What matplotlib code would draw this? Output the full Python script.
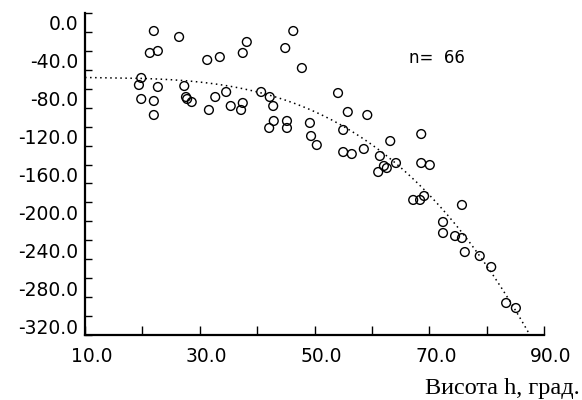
import numpy as np
import matplotlib
matplotlib.use("Agg")
import matplotlib.pyplot as plt
from matplotlib.transforms import ScaledTranslation

# values
height_deg = [22.0, 26.4, 21.3, 22.7, 31.3, 33.5, 19.8, 19.4, 22.7, 19.8,
              22.0, 22.0, 27.3, 27.6, 28.6, 31.6, 32.7, 34.6, 35.4, 37.5,
              37.2, 38.2, 37.5, 44.9, 46.3, 47.8, 40.7, 42.2, 42.8, 42.9,
              42.1, 45.2, 45.2, 49.2, 49.4, 50.4, 54.1, 55.8, 59.2, 55.0,
              55.0, 56.5, 58.6, 63.2, 61.4, 64.2, 62.6, 61.1, 68.6, 68.6,
              70.1, 67.2, 68.4, 69.1, 75.7, 72.4, 72.4, 74.5, 75.7, 76.2,
              78.8, 80.8, 83.4, 85.1, 27.8, 62.1]
values = [-19.0, -25.3, -42.2, -40.1, -49.6, -46.5, -68.6, -76.0, -78.1, -90.8,
          -92.9, -107.7, -77.1, -88.7, -94.0, -102.4, -88.7, -83.4, -98.2, -95.0,
          -102.4, -30.6, -42.2, -37.0, -19.0, -58.1, -83.4, -88.7, -98.2, -114.0,
          -121.4, -114.0, -121.4, -116.1, -129.9, -139.4, -84.5, -104.5, -107.7, -123.5,
          -146.8, -148.9, -143.6, -135.2, -151.0, -158.4, -163.7, -167.9, -127.8, -158.4,
          -160.5, -197.4, -197.4, -193.2, -202.7, -220.7, -232.3, -235.5, -237.6, -252.4,
          -256.6, -268.2, -306.2, -311.5, -90.8, -161.5]

x_ticks_major = [10, 30, 50, 70, 90]
y_ticks_major = [0, -40, -80, -120, -160, -200, -240, -280, -320]

fig = plt.figure(figsize=(5.82, 4.0), dpi=100)
ax = fig.add_axes([85 / 582, 65 / 400, 459 / 582, 322 / 400])

# trend line: cubic fit of the points
coef = np.polyfit(height_deg, values, 3)
xs = np.linspace(10, 90, 300)
ax.plot(xs, np.polyval(coef, xs), color="black", lw=1.1, linestyle=(0, (1, 2.3)))

ax.scatter(height_deg, values, s=40, facecolors="none", edgecolors="black",
           linewidths=1.0, zorder=3)

ax.set_xlim(10, 90)
ax.set_ylim(-340, 0)
ax.spines["top"].set_visible(False)
ax.spines["right"].set_visible(False)
ax.spines["left"].set_linewidth(1.6)
ax.spines["bottom"].set_linewidth(1.6)

ax.set_xticks(x_ticks_major)
ax.set_xticks(np.arange(20, 90, 20), minor=True)
ax.set_xticklabels([f"{v:.1f}" for v in x_ticks_major])
ax.set_yticks(y_ticks_major)
ax.set_yticks(np.arange(-20, -341, -40), minor=True)
ax.set_yticklabels([f"{v:.1f}" for v in y_ticks_major])

ax.tick_params(axis="x", which="both", direction="in", length=6.5, width=1.0,
               pad=8.5, labelsize=13.5)
ax.tick_params(axis="y", which="both", direction="in", length=5, width=1.0,
               pad=5, labelsize=13.5)

# the old program draws labels a bit off their ticks
for lab in ax.get_xticklabels():
    lab.set_transform(lab.get_transform() + ScaledTranslation(0.065, 0, fig.dpi_scale_trans))
for lab in ax.get_yticklabels():
    lab.set_transform(lab.get_transform() + ScaledTranslation(0, -0.10, fig.dpi_scale_trans))

ax.text(0.705, 0.86, "n=  66", transform=ax.transAxes, fontsize=12,
        ha="left", va="center")

fig.text(580 / 582, 6 / 400, "Висота h, град.", family="Liberation Serif",
         fontsize=17.5, ha="right", va="baseline")

fig.savefig("out.png", dpi=100, facecolor="white")
